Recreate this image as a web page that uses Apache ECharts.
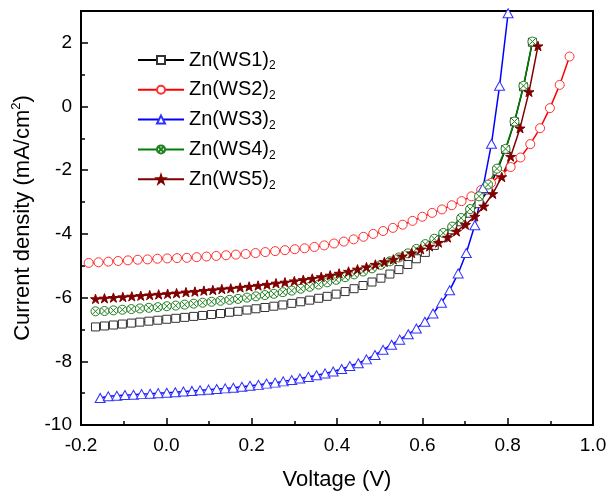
<!DOCTYPE html>
<html>
<head>
<meta charset="utf-8">
<script src="https://cdn.jsdelivr.net/npm/echarts@6/dist/echarts.min.js"></script>
<style>html,body{margin:0;padding:0;background:#fff}#c{width:608px;height:492px}</style>
</head>
<body>
<div id="c"></div>
<script>
// ---- Data ----
const seriesNames = ['Zn(WS1)', 'Zn(WS2)', 'Zn(WS3)', 'Zn(WS4)', 'Zn(WS5)'];
const xTickLabels = ['-0.2', '0.0', '0.2', '0.4', '0.6', '0.8', '1.0'];
const yTickLabels = ['-10', '-8', '-6', '-4', '-2', '0', '2'];

const voltWS1 = [-0.166,-0.145,-0.124,-0.103,-0.082,-0.062,-0.041,-0.020,0.001,0.022,0.043,0.064,0.085,0.106,0.127,0.148,0.168,0.189,0.210,0.231,0.252,0.273,0.294,0.315,0.336,0.357,0.377,0.398,0.419,0.440,0.461,0.482,0.503,0.524,0.545,0.566,0.586,0.607,0.628,0.649,0.670,0.691,0.712,0.733,0.754,0.775,0.795,0.816,0.837,0.858];
const currWS1 = [-6.92,-6.89,-6.86,-6.83,-6.80,-6.77,-6.74,-6.71,-6.68,-6.65,-6.62,-6.59,-6.56,-6.53,-6.50,-6.46,-6.43,-6.39,-6.35,-6.31,-6.27,-6.23,-6.18,-6.13,-6.08,-6.02,-5.96,-5.89,-5.81,-5.72,-5.62,-5.51,-5.39,-5.26,-5.12,-4.96,-4.78,-4.58,-4.36,-4.12,-3.87,-3.62,-3.35,-3.05,-2.62,-2.02,-1.35,-0.48,0.62,2.02];

const voltWS2 = [-0.182,-0.159,-0.136,-0.113,-0.090,-0.067,-0.044,-0.021,0.002,0.025,0.048,0.071,0.094,0.117,0.140,0.163,0.186,0.209,0.232,0.255,0.278,0.301,0.324,0.347,0.370,0.393,0.416,0.439,0.462,0.485,0.508,0.531,0.554,0.577,0.600,0.623,0.646,0.669,0.692,0.715,0.738,0.761,0.784,0.807,0.830,0.853,0.876,0.899,0.922,0.945];
const currWS2 = [-4.91,-4.89,-4.87,-4.85,-4.83,-4.81,-4.80,-4.78,-4.77,-4.76,-4.75,-4.73,-4.71,-4.69,-4.67,-4.65,-4.63,-4.60,-4.57,-4.54,-4.51,-4.48,-4.45,-4.41,-4.36,-4.30,-4.24,-4.17,-4.09,-4.00,-3.91,-3.81,-3.71,-3.59,-3.46,-3.34,-3.23,-3.10,-2.97,-2.82,-2.62,-2.40,-2.14,-1.90,-1.60,-1.18,-0.68,-0.05,0.68,1.57];

const voltWS3 = [-0.155,-0.136,-0.116,-0.097,-0.077,-0.058,-0.038,-0.019,0.001,0.021,0.040,0.060,0.079,0.099,0.118,0.138,0.157,0.177,0.196,0.216,0.235,0.255,0.274,0.294,0.313,0.333,0.352,0.372,0.391,0.411,0.430,0.450,0.469,0.489,0.508,0.528,0.547,0.567,0.586,0.606,0.625,0.645,0.664,0.684,0.703,0.723,0.742,0.762,0.781,0.801];
const currWS3 = [-9.15,-9.10,-9.08,-9.06,-9.05,-9.03,-9.02,-9.00,-8.99,-8.97,-8.95,-8.93,-8.91,-8.89,-8.87,-8.85,-8.83,-8.80,-8.77,-8.74,-8.70,-8.67,-8.63,-8.59,-8.54,-8.49,-8.44,-8.38,-8.32,-8.24,-8.15,-8.06,-7.94,-7.80,-7.64,-7.48,-7.32,-7.15,-6.97,-6.76,-6.50,-6.16,-5.77,-5.24,-4.60,-3.73,-2.56,-1.17,0.65,2.93];

const voltWS4 = [-0.166,-0.145,-0.124,-0.103,-0.082,-0.062,-0.041,-0.020,0.001,0.022,0.043,0.064,0.085,0.106,0.127,0.148,0.168,0.189,0.210,0.231,0.252,0.273,0.294,0.315,0.336,0.357,0.377,0.398,0.419,0.440,0.461,0.482,0.503,0.524,0.545,0.566,0.586,0.607,0.628,0.649,0.670,0.691,0.712,0.733,0.754,0.775,0.795,0.816,0.837,0.858];
const currWS4 = [-6.43,-6.42,-6.40,-6.38,-6.36,-6.34,-6.32,-6.30,-6.27,-6.25,-6.22,-6.19,-6.16,-6.13,-6.10,-6.07,-6.04,-6.00,-5.96,-5.92,-5.88,-5.83,-5.78,-5.72,-5.66,-5.59,-5.52,-5.44,-5.36,-5.27,-5.18,-5.08,-4.97,-4.86,-4.74,-4.61,-4.47,-4.32,-4.15,-3.97,-3.77,-3.50,-3.22,-2.82,-2.45,-1.95,-1.33,-0.47,0.65,2.04];

const voltWS5 = [-0.166,-0.145,-0.124,-0.102,-0.081,-0.060,-0.039,-0.018,0.003,0.024,0.046,0.067,0.088,0.109,0.130,0.151,0.173,0.194,0.215,0.236,0.257,0.278,0.300,0.321,0.342,0.363,0.384,0.405,0.427,0.448,0.469,0.490,0.511,0.532,0.553,0.575,0.596,0.617,0.638,0.659,0.680,0.701,0.723,0.744,0.765,0.786,0.807,0.829,0.850,0.871];
const currWS5 = [-6.04,-6.02,-6.00,-5.98,-5.96,-5.94,-5.92,-5.90,-5.88,-5.86,-5.83,-5.81,-5.78,-5.76,-5.73,-5.71,-5.68,-5.65,-5.62,-5.59,-5.55,-5.52,-5.48,-5.44,-5.40,-5.35,-5.30,-5.24,-5.18,-5.11,-5.04,-4.96,-4.88,-4.80,-4.70,-4.60,-4.48,-4.39,-4.27,-4.11,-3.92,-3.71,-3.45,-3.13,-2.74,-2.21,-1.57,-0.68,0.46,1.90];

// ---- Chart ----
const zip = (xs, ys) => xs.map((x, i) => [x, ys[i]]);
const FONT = 'Liberation Sans, Arial, sans-serif';
const starPath = 'path://M50,0 L61.8,35.1 L98.8,35.1 L68.9,56.9 L80.2,91.9 L50,70.1 L19.8,91.9 L31.1,56.9 L1.2,35.1 L38.2,35.1 Z';
const crossCirclePath = 'path://M0,10 A10,10 0 1,1 20,10 A10,10 0 1,1 0,10 Z M2.93,2.93 L17.07,17.07 M17.07,2.93 L2.93,17.07';

function mk(name, data, color, symbol, size, fill, border) {
  return {
    name: name, type: 'line', data: data,
    symbol: symbol, symbolSize: size, symbolKeepAspect: true,
    showAllSymbol: true,
    lineStyle: { color: color, width: 1.5 },
    itemStyle: { color: fill, borderColor: border, borderWidth: 1 },
    emphasis: { disabled: true }
  };
}

const chart = echarts.init(document.getElementById('c'), null, { renderer: 'canvas' });
chart.setOption({
  animation: false,
  backgroundColor: '#fff',
  grid: { left: 81, right: 15, top: 11, bottom: 67, show: true, borderColor: '#000', borderWidth: 2, outerBoundsMode: 'none' },
  legend: {
    orient: 'vertical', left: 137, top: 50, padding: 0,
    itemWidth: 46, itemHeight: 10, itemGap: 7.8,
    data: seriesNames,
    formatter: n => '{a|' + n + '}{s|2}',
    textStyle: {
      color: '#000',
      rich: {
        a: { fontFamily: FONT, fontSize: 20, color: '#000', lineHeight: 24, verticalAlign: 'middle' },
        s: { fontFamily: FONT, fontSize: 12, color: '#000', lineHeight: 12, verticalAlign: 'bottom' }
      }
    }
  },
  xAxis: {
    type: 'value', min: -0.2, max: 1.0, interval: 0.2,
    name: 'Voltage (V)', nameLocation: 'middle', nameGap: 44,
    nameTextStyle: { fontFamily: FONT, fontSize: 22, color: '#000' },
    axisLine: { onZero: false, lineStyle: { color: '#000', width: 2 } },
    axisTick: { inside: true, length: 7, lineStyle: { color: '#000', width: 1.5 } },
    minorTick: { show: true, splitNumber: 2, length: 4, lineStyle: { color: '#000', width: 1.5 } },
    splitLine: { show: false },
    axisLabel: { fontFamily: FONT, fontSize: 19, color: '#000', margin: 11,
      formatter: v => xTickLabels[Math.round((v + 0.2) / 0.2)] }
  },
  yAxis: {
    type: 'value', min: -10, max: 3, interval: 2,
    name: '{a|Current density (mA/cm}{p|2}{a|)}', nameLocation: 'middle', nameGap: 40, nameRotate: 90,
    nameTextStyle: { color: '#000', rich: {
      a: { fontFamily: FONT, fontSize: 22, color: '#000', lineHeight: 26, verticalAlign: 'middle' },
      p: { fontFamily: FONT, fontSize: 13, color: '#000', lineHeight: 13, verticalAlign: 'top' }
    } },
    axisLine: { onZero: false, lineStyle: { color: '#000', width: 2 } },
    axisTick: { inside: true, length: 7, lineStyle: { color: '#000', width: 1.5 } },
    minorTick: { show: true, splitNumber: 2, length: 4, lineStyle: { color: '#000', width: 1.5 } },
    splitLine: { show: false },
    axisLabel: { fontFamily: FONT, fontSize: 19, color: '#000', margin: 9, showMaxLabel: false,
      formatter: v => { const i = Math.round((v + 10) / 2); return (Math.abs(v - (-10 + 2 * i)) < 1e-6) ? (yTickLabels[i] || '') : ''; } }
  },
  series: [
    mk(seriesNames[0], zip(voltWS1, currWS1), '#000000', 'rect', 8, '#ffffff', '#333333'),
    mk(seriesNames[1], zip(voltWS2, currWS2), '#ff0000', 'circle', 9, '#ffffff', '#ff3030'),
    mk(seriesNames[2], zip(voltWS3, currWS3), '#0000ff', 'triangle', [10, 9], '#ffffff', '#3030ff'),
    mk(seriesNames[3], zip(voltWS4, currWS4), '#008000', crossCirclePath, 9, '#ffffff', '#208020'),
    mk(seriesNames[4], zip(voltWS5, currWS5), '#800000', starPath, 10, '#800000', '#800000')
  ]
});
</script>
</body>
</html>
